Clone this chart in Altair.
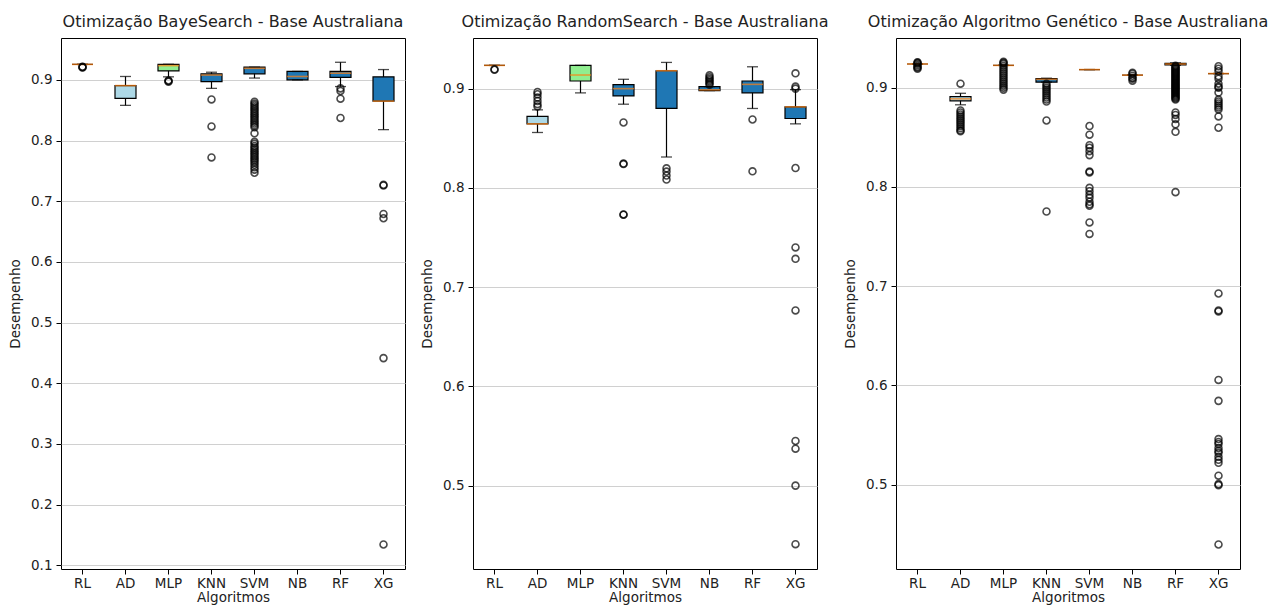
import altair as alt
import pandas as pd

ALGS = ["RL", "AD", "MLP", "KNN", "SVM", "NB", "RF", "XG"]
BOX_COLORS = ["#1f77b4", "#add8e6", "#90ee90", "#1f77b4", "#1f77b4", "#1f77b4", "#1f77b4", "#1f77b4"]

# ---- BayeSearch ----
BAYES_LO  = [0.9255, 0.8580, 0.9050, 0.8860, 0.9030, 0.9000, 0.8890, 0.8180]
BAYES_Q1  = [0.9255, 0.8694, 0.9148, 0.8970, 0.9100, 0.9000, 0.9040, 0.8650]
BAYES_MED = [0.9255, 0.8906, 0.9235, 0.9080, 0.9190, 0.9056, 0.9110, 0.8650]
BAYES_Q3  = [0.9255, 0.8906, 0.9257, 0.9100, 0.9210, 0.9139, 0.9140, 0.9050]
BAYES_HI  = [0.9255, 0.9056, 0.9257, 0.9126, 0.9210, 0.9139, 0.9290, 0.9170]
BAYES_OUT = {
    "RL": [0.9210, 0.9205, 0.9215],
    "AD": [],
    "MLP": [0.8990, 0.8970, 0.8980],
    "KNN": [0.8678, 0.8233, 0.7722],
    "SVM": [0.864, 0.861, 0.858, 0.855, 0.852, 0.849, 0.846, 0.843, 0.840, 0.837,
            0.834, 0.831, 0.828, 0.825, 0.822, 0.812, 0.798, 0.795, 0.791, 0.788,
            0.785, 0.782, 0.779, 0.776, 0.773, 0.770, 0.767, 0.764, 0.760, 0.756,
            0.752, 0.747],
    "NB": [],
    "RF": [0.8860, 0.8817, 0.8690, 0.8372],
    "XG": [0.7270, 0.7260, 0.6790, 0.6720, 0.4415, 0.1344],
}

# ---- RandomSearch ----
RAND_LO  = [0.9234, 0.8558, 0.8957, 0.8843, 0.8311, 0.8980, 0.8800, 0.8645]
RAND_Q1  = [0.9234, 0.8645, 0.9077, 0.8926, 0.8800, 0.8980, 0.8957, 0.8699]
RAND_MED = [0.9234, 0.8645, 0.9137, 0.9000, 0.9180, 0.8988, 0.9043, 0.8816]
RAND_Q3  = [0.9234, 0.8720, 0.9234, 0.9040, 0.9180, 0.9020, 0.9077, 0.8816]
RAND_HI  = [0.9234, 0.8786, 0.9234, 0.9094, 0.9264, 0.9020, 0.9220, 0.8990]
RAND_OUT = {
    "RL": [0.9190, 0.9195],
    "AD": [0.8967, 0.8943, 0.8910, 0.8876, 0.8843, 0.8820],
    "MLP": [],
    "KNN": [0.8659, 0.8240, 0.8245, 0.7732, 0.7730],
    "SVM": [0.8197, 0.8164, 0.8124, 0.8084],
    "NB": [0.9040, 0.9055, 0.9070, 0.9085, 0.9100, 0.9115, 0.9134],
    "RF": [0.8689, 0.8167],
    "XG": [0.9154, 0.9020, 0.9000, 0.8200, 0.7400, 0.7285, 0.6765, 0.5450,
           0.5372, 0.5000, 0.4410],
}

# ---- Algoritmo Genetico ----
GA_LO  = [0.9238, 0.8827, 0.9224, 0.9056, 0.9182, 0.9126, 0.9225, 0.9142]
GA_Q1  = [0.9238, 0.8867, 0.9224, 0.9056, 0.9182, 0.9126, 0.9230, 0.9142]
GA_MED = [0.9238, 0.8887, 0.9224, 0.9083, 0.9182, 0.9126, 0.9238, 0.9142]
GA_Q3  = [0.9238, 0.8910, 0.9224, 0.9090, 0.9182, 0.9126, 0.9245, 0.9142]
GA_HI  = [0.9238, 0.8943, 0.9224, 0.9095, 0.9182, 0.9126, 0.9250, 0.9142]
GA_OUT = {
    "RL": [0.9255, 0.9250, 0.9240, 0.9225, 0.9210, 0.9200, 0.9190],
    "AD": [0.9040, 0.877, 0.875, 0.873, 0.871, 0.869, 0.867, 0.865, 0.863, 0.861,
           0.859, 0.857, 0.856],
    "MLP": [0.926, 0.925, 0.924, 0.922, 0.920, 0.918, 0.916, 0.914, 0.912, 0.910,
            0.908, 0.906, 0.904, 0.902, 0.900, 0.898],
    "KNN": [0.904, 0.902, 0.900, 0.898, 0.896, 0.894, 0.892, 0.890, 0.888, 0.886,
            0.8669, 0.7752],
    "SVM": [0.8613, 0.8526, 0.8420, 0.8394, 0.8360, 0.8320, 0.8156, 0.8146, 0.7990,
            0.7957, 0.7920, 0.7890, 0.7850, 0.7825, 0.7810, 0.7642, 0.7526],
    "NB": [0.915, 0.914, 0.912, 0.910, 0.909, 0.907],
    "RF": [0.922, 0.921, 0.920, 0.919, 0.918, 0.917, 0.916, 0.915, 0.914, 0.913,
           0.912, 0.911, 0.910, 0.909, 0.908, 0.907, 0.906, 0.905, 0.904, 0.903,
           0.902, 0.901, 0.900, 0.899, 0.898, 0.897, 0.896, 0.895, 0.894, 0.893,
           0.892, 0.891, 0.890, 0.889, 0.888, 0.875, 0.8725, 0.8685, 0.863, 0.8555,
           0.7947],
    "XG": [0.9215, 0.9190, 0.9165, 0.9116, 0.9090, 0.9040, 0.9010, 0.9000, 0.8950,
           0.8880, 0.8860, 0.8840, 0.8820, 0.8800, 0.8780, 0.8710, 0.8596, 0.6926,
           0.6755, 0.6745, 0.6055, 0.5844, 0.5459, 0.5430, 0.5410, 0.5370, 0.5340,
           0.5320, 0.5280, 0.5250, 0.5220, 0.5090, 0.5005, 0.4995, 0.4397],
}

FONT = "DejaVu Sans"
TXT = "#222222"
W, H = 344, 531


def panel(title, lo, q1, med, q3, hi, out, domain, ticks):
    stats = pd.DataFrame({"alg": ALGS, "lo": lo, "q1": q1, "med": med,
                          "q3": q3, "hi": hi, "color": BOX_COLORS})
    rows = [(a, v) for a in ALGS for v in out[a]]
    odf = pd.DataFrame(rows, columns=["alg", "v"])

    xenc = alt.X("alg:N", sort=ALGS,
                 scale=alt.Scale(domain=ALGS, paddingInner=0, paddingOuter=0),
                 axis=alt.Axis(title="Algoritmos", labelAngle=0, grid=False,
                               tickColor="black", domain=False, titlePadding=1,
                               labelPadding=2))
    yscale = alt.Scale(domain=domain, nice=False, zero=False)
    yaxis = alt.Axis(title="Desempenho", values=ticks, format=".1f", grid=True,
                     gridColor="#d0d0d0", tickColor="black", domain=False,
                     labelPadding=4, titlePadding=8)

    def Y(f):
        return alt.Y(f, scale=yscale, axis=yaxis)

    base = alt.Chart(stats).encode(x=xenc)
    whisk = base.mark_rule(color="black", strokeWidth=1.2).encode(y=Y("lo:Q"), y2="hi:Q")
    box = base.mark_bar(size=21, stroke="black", strokeWidth=1.2).encode(
        y=Y("q1:Q"), y2="q3:Q", fill=alt.Fill("color:N", scale=None))
    cap_lo = base.mark_tick(size=11, thickness=1.3, color="black").encode(y=Y("lo:Q"))
    cap_hi = base.mark_tick(size=11, thickness=1.3, color="black").encode(y=Y("hi:Q"))
    median = base.mark_tick(size=21, thickness=1.6, color="#ff7f0e").encode(y=Y("med:Q"))
    pts = alt.Chart(odf).mark_point(shape="circle", filled=False, stroke="black",
                                     strokeWidth=1.6, size=48).encode(x=xenc, y=Y("v:Q"))
    return alt.layer(whisk, box, cap_lo, cap_hi, median, pts).properties(
        width=W, height=H,
        title=alt.TitleParams(title, fontSize=16, font=FONT, fontWeight="normal",
                              color=TXT, offset=8))


p1 = panel("Otimização BayeSearch - Base Australiana", BAYES_LO, BAYES_Q1, BAYES_MED,
           BAYES_Q3, BAYES_HI, BAYES_OUT, [0.094, 0.969],
           [0.1, 0.2, 0.3, 0.4, 0.5, 0.6, 0.7, 0.8, 0.9])
p2 = panel("Otimização RandomSearch - Base Australiana", RAND_LO, RAND_Q1, RAND_MED,
           RAND_Q3, RAND_HI, RAND_OUT, [0.416, 0.951], [0.5, 0.6, 0.7, 0.8, 0.9])
p3 = panel("Otimização Algoritmo Genético - Base Australiana", GA_LO, GA_Q1, GA_MED,
           GA_Q3, GA_HI, GA_OUT, [0.415, 0.950], [0.5, 0.6, 0.7, 0.8, 0.9])

chart = alt.hconcat(p1, p2, p3, spacing=14).properties(
    padding={"left": 0, "top": 5, "right": 0, "bottom": 0}
).configure_view(stroke="black", strokeWidth=1).configure_axis(
    labelFont=FONT, titleFont=FONT, labelFontSize=13.5, titleFontSize=13.5,
    labelColor=TXT, titleColor=TXT, titleFontWeight="normal", tickSize=5
)

chart.save("out.html", embed_options={"renderer": "svg", "actions": False})
